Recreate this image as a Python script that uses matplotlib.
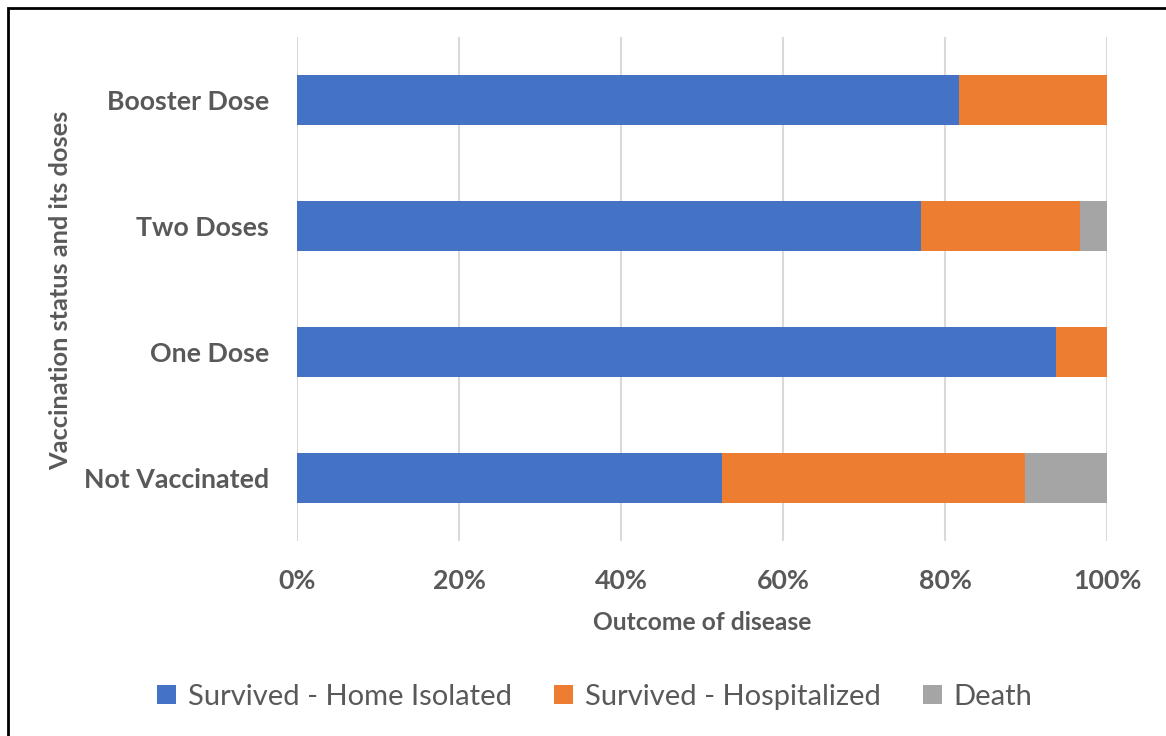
import numpy as np
import matplotlib
matplotlib.use('Agg')
import matplotlib.pyplot as plt
from matplotlib.patches import Rectangle

categories = ['Not Vaccinated', 'One Dose', 'Two Doses', 'Booster Dose']
home_isolated = [52.5, 93.7, 77.0, 81.7]
hospitalized = [37.4, 6.3, 19.7, 18.3]
death = [10.1, 0.0, 3.3, 0.0]
series_names = ['Survived - Home Isolated', 'Survived - Hospitalized', 'Death']
colors = ['#4472C4', '#ED7D31', '#A5A5A5']
xticks = [0, 20, 40, 60, 80, 100]

plt.rcParams['font.family'] = ['Lato', 'DejaVu Sans']
text_color = '#595959'

fig = plt.figure(figsize=(11.66, 7.36), dpi=100)
ax = fig.add_axes([297 / 1166, 1 - 541 / 736, 810 / 1166, 504 / 736])

y = np.arange(len(categories))
left = np.zeros(len(categories))
for vals, name, c in zip([home_isolated, hospitalized, death], series_names, colors):
    ax.barh(y, vals, left=left, height=0.4, color=c, label=name, zorder=3)
    left = left + np.array(vals)

ax.set_xlim(0, 100)
ax.set_ylim(-0.5, len(categories) - 0.5)
ax.set_xticks(xticks)
ax.set_xticklabels([f'{t}%' for t in xticks])
ax.set_yticks(y)
ax.set_yticklabels(categories)
for lab in ax.get_xticklabels() + ax.get_yticklabels():
    lab.set_fontweight('bold')
    lab.set_color(text_color)
    lab.set_fontsize(19.3)
ax.tick_params(axis='both', length=0)
ax.tick_params(axis='x', pad=20)
ax.tick_params(axis='y', pad=20)
ax.grid(True, axis='x', color='#D9D9D9', linewidth=1.5, zorder=0)
for s in ax.spines.values():
    s.set_visible(False)

ax.set_xlabel('Outcome of disease', fontsize=17.7, fontweight='bold', color=text_color, labelpad=13)
fig.text(61 / 1166, 1 - 290 / 736, 'Vaccination status and its doses', rotation=90,
         ha='center', va='center', fontsize=18.3, fontweight='bold', color=text_color)

leg = fig.legend(loc='center', bbox_to_anchor=(595 / 1166, 1 - 697 / 736), ncol=3, frameon=False,
                 fontsize=21, handlelength=0.65, handleheight=0.65, columnspacing=1.45, handletextpad=0.4)
for t in leg.get_texts():
    t.set_color(text_color)

fig.patches.append(Rectangle((8 / 1166, -0.1), 1.2, 1 - 8 / 736 + 0.1, transform=fig.transFigure,
                             fill=False, edgecolor='black', linewidth=2))

plt.savefig('out.png', dpi=100)
plt.close()
